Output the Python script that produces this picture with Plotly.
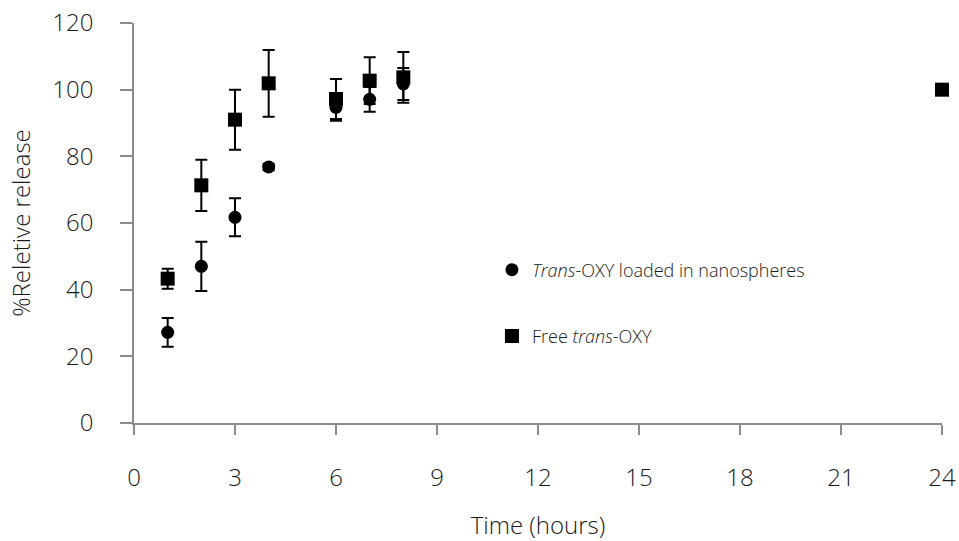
import plotly.graph_objects as go

# Sampling times (hours)
hours = [1, 2, 3, 4, 6, 7, 8, 24]

# Trans-OXY loaded in nanospheres: mean release (%) and SD
nano_mean = [27.2, 47.0, 61.7, 76.8, 94.7, 97.1, 101.7, 100.0]
nano_sd = [4.3, 7.4, 5.7, 1.0, 4.0, 3.7, 4.8, 0.0]

# Free trans-OXY: mean release (%) and SD
free_mean = [43.3, 71.3, 91.0, 101.9, 97.2, 102.7, 103.7, 100.0]
free_sd = [3.0, 7.7, 9.0, 10.0, 6.0, 7.0, 7.6, 0.0]

x_ticks = [0, 3, 6, 9, 12, 15, 18, 21, 24]
y_ticks = [0, 20, 40, 60, 80, 100, 120]

FONT = "Open Sans"
TEXT = "#1a1a1a"
AXIS = "#8c8c8c"

fig = go.Figure()

fig.add_trace(go.Scatter(
    x=hours, y=nano_mean, mode="markers",
    name="<i>Trans</i>-OXY loaded in nanospheres",
    legendgroup="a", cliponaxis=False,
    marker=dict(symbol="circle", size=13, color="black"),
    error_y=dict(type="data", array=nano_sd, visible=True,
                 color="black", thickness=2, width=6),
))

fig.add_trace(go.Scatter(
    x=hours, y=free_mean, mode="markers",
    name="Free <i>trans</i>-OXY",
    legendgroup="b", cliponaxis=False,
    marker=dict(symbol="square", size=14, color="black"),
    error_y=dict(type="data", array=free_sd, visible=True,
                 color="black", thickness=2, width=6),
))

fig.update_layout(
    width=959, height=541,
    margin=dict(l=134, r=17, t=23, b=118),
    paper_bgcolor="white", plot_bgcolor="white",
    font=dict(family=FONT, size=22, color=TEXT, weight=300),
    showlegend=True,
    legend=dict(
        x=0.443, y=0.30, xanchor="left", yanchor="middle",
        bgcolor="rgba(0,0,0,0)",
        font=dict(family=FONT, size=18, color=TEXT, weight=300),
        traceorder="grouped", tracegroupgap=40,
        itemsizing="trace",
    ),
    xaxis=dict(
        range=[0, 24], tickvals=x_ticks, automargin=False,
        showgrid=False, zeroline=False,
        showline=True, linecolor=AXIS, linewidth=1.5,
        ticks="outside", ticklen=10, tickwidth=1.5, tickcolor=AXIS,
        ticklabelstandoff=22,
        tickfont=dict(family=FONT, size=24, color=TEXT, weight=300),
        title=dict(text="Time (hours)",
                   font=dict(family=FONT, size=24, color=TEXT, weight=300),
                   standoff=26),
    ),
    yaxis=dict(
        range=[0, 120], tickvals=y_ticks, automargin=False,
        showgrid=False, zeroline=False,
        showline=True, linecolor=AXIS, linewidth=1.5,
        ticks="outside", ticklen=12, tickwidth=1.5, tickcolor=AXIS,
        ticklabelstandoff=22,
        tickfont=dict(family=FONT, size=24, color=TEXT, weight=300),
        title=dict(text="%Reletive release",
                   font=dict(family=FONT, size=24, color=TEXT, weight=300),
                   standoff=15),
    ),
)

fig.write_html("out.html")
